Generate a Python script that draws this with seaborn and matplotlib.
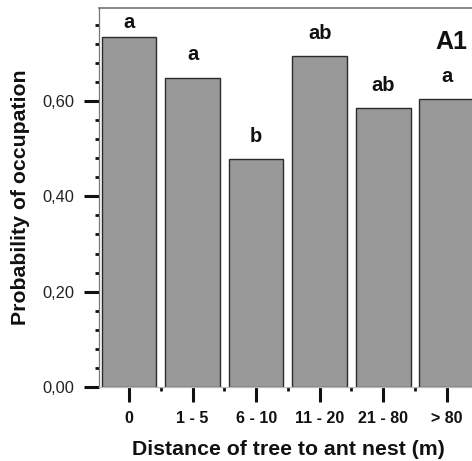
import matplotlib
matplotlib.use("Agg")
import matplotlib.pyplot as plt
from matplotlib.ticker import FixedLocator, MultipleLocator, FuncFormatter
import seaborn as sns
import pandas as pd

# Occupation probability per distance class
categories = ["0", "1 - 5", "6 - 10", "11 - 20", "21 - 80", "> 80"]
probability = [0.735, 0.649, 0.478, 0.694, 0.586, 0.604]
letters = ["a", "a", "b", "ab", "ab", "a"]
panel = "A1"

sns.set_theme(style="white")
plt.rcParams["font.family"] = ["Liberation Sans", "DejaVu Sans"]

df = pd.DataFrame({"distance": categories, "prob": probability})

fig = plt.figure(figsize=(4.72, 4.61), dpi=100)
ax = fig.add_axes([0.209, 0.1605, 0.802, 0.822])

sns.barplot(data=df, x="distance", y="prob", color="#999999", saturation=1,
            edgecolor="#2a2a2a", linewidth=1.0, width=0.86, ax=ax)

ax.set_xlim(-0.48, 5.48)
ax.set_ylim(0, 0.795)

# significance letters above the bars
for i, (v, lab) in enumerate(zip(probability, letters)):
    ax.text(i, min(v + 0.036, 0.753), lab, ha="center", va="baseline",
            fontsize=14.5, fontweight="bold", color="#111111")

ax.text(0.931, 0.91, panel, transform=ax.transAxes, ha="center", va="center",
        fontsize=18, fontweight="bold", color="#111111")

# axes styling
ax.spines["left"].set_color("#777777")
ax.spines["left"].set_linewidth(0.9)
ax.spines["top"].set_color("#666666")
ax.spines["top"].set_linewidth(1.1)
ax.spines["bottom"].set_color("#bbbbbb")
ax.spines["bottom"].set_linewidth(0.9)
ax.spines["right"].set_visible(False)

ax.yaxis.set_major_locator(FixedLocator([0.0, 0.2, 0.4, 0.6]))
ax.yaxis.set_minor_locator(MultipleLocator(0.04))
ax.yaxis.set_major_formatter(FuncFormatter(lambda v, p: f"{v:.2f}".replace(".", ",")))
ax.xaxis.set_minor_locator(FixedLocator([0.5, 1.5, 2.5, 3.5, 4.5]))

ax.tick_params(axis="both", which="major", direction="out", length=10.5, width=2.2,
               color="#111111", pad=7, left=True, bottom=True)
ax.tick_params(axis="both", which="minor", direction="out", length=3, width=2.0,
               color="#111111", left=True, bottom=True)
ax.tick_params(axis="y", labelsize=11.8, labelcolor="#222222")
ax.tick_params(axis="x", labelsize=11.5, labelcolor="#111111")
for t in ax.get_xticklabels():
    t.set_fontweight("bold")

ax.set_xlabel("Distance of tree to ant nest (m)", fontsize=15.3, fontweight="bold",
              color="#111111", labelpad=9.5)
ax.set_ylabel("Probability of occupation", fontsize=15.3, fontweight="bold",
              color="#111111", labelpad=9)
ax.grid(False)

fig.savefig("out.png", dpi=100)
